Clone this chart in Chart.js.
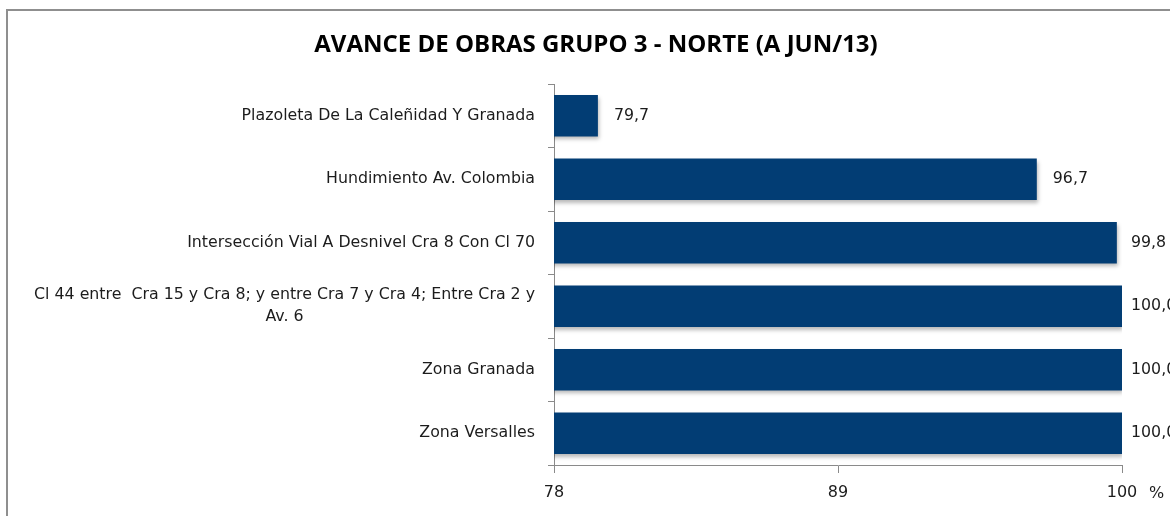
<!DOCTYPE html>
<html>
<head>
<meta charset="utf-8">
<style>
  html, body { margin: 0; padding: 0; background: #ffffff; }
  #wrap { position: relative; width: 1170px; height: 516px; overflow: hidden; }
  canvas { display: block; }
</style>
<script src="https://cdn.jsdelivr.net/npm/chart.js@4.4.1/dist/chart.umd.min.js"></script>
</head>
<body>
<div id="wrap"><canvas id="chart" width="1170" height="516"></canvas></div>
<script>
// Obras del grupo 3 - Norte, porcentaje de avance a junio de 2013
const categories = [
  ['Plazoleta De La Caleñidad Y Granada'],
  ['Hundimiento Av. Colombia'],
  ['Intersección Vial A Desnivel Cra 8 Con Cl 70'],
  ['Cl 44 entre  Cra 15 y Cra 8; y entre Cra 7 y Cra 4; Entre Cra 2 y', 'Av. 6'],
  ['Zona Granada'],
  ['Zona Versalles']
];
const avance = [79.7, 96.7, 99.8, 100.0, 100.0, 100.0];
const xTicks = [78, 89, 100];

const titleText = 'AVANCE DE OBRAS GRUPO 3 - NORTE (A JUN/13)';
const BAR = '#023d74';
const AXIS = '#8a8a8a';
const TEXT = '#1c1c1c';
const LABEL_FONT = '15.8px "DejaVu Sans"';

// Marco, título y rótulos de categoría (centrados por línea, alineados a la derecha)
const framePlugin = {
  id: 'frame',
  beforeDraw(chart) {
    const ctx = chart.ctx;
    ctx.save();
    ctx.strokeStyle = '#8f8f8f';
    ctx.lineWidth = 2;
    ctx.strokeRect(7, 10, chart.width + 20, chart.height + 20);
    ctx.restore();
  },
  afterDraw(chart) {
    const ctx = chart.ctx;
    const y = chart.scales.y;
    const x = chart.scales.x;
    ctx.save();
    // título
    ctx.fillStyle = '#000000';
    ctx.font = 'bold 24px "Open Sans"';
    ctx.textAlign = 'center';
    ctx.textBaseline = 'middle';
    ctx.fillText(titleText, 596, 45);

    // rótulos de categoría
    ctx.font = LABEL_FONT;
    ctx.fillStyle = TEXT;
    const rightEdge = y.right - 19;
    const lineH = 22;
    categories.forEach((lines, i) => {
      const cy = y.getPixelForValue(i);
      const w = Math.max(...lines.map(l => ctx.measureText(l).width));
      const cx = rightEdge - w / 2;
      const y0 = cy - (lines.length - 1) * lineH / 2;
      lines.forEach((l, k) => ctx.fillText(l, cx, y0 + k * lineH));
    });

    // unidad del eje x
    ctx.textAlign = 'left';
    ctx.font = '16px "DejaVu Sans"';
    ctx.fillText('%', x.right + 27, 494);
    ctx.restore();
  }
};

// Sombra suave de las barras
const shadowPlugin = {
  id: 'barShadow',
  beforeDatasetsDraw(chart) {
    const ctx = chart.ctx;
    ctx.save();
    ctx.shadowColor = 'rgba(0,0,0,0.28)';
    ctx.shadowBlur = 4;
    ctx.shadowOffsetX = 1;
    ctx.shadowOffsetY = 3;
  },
  afterDatasetsDraw(chart) {
    chart.ctx.restore();
  }
};

// Valores al final de cada barra (sin pasar más allá del margen derecho del área)
const valuePlugin = {
  id: 'values',
  afterDatasetsDraw(chart) {
    const ctx = chart.ctx;
    const meta = chart.getDatasetMeta(0);
    const maxX = chart.chartArea.right + 9;
    ctx.save();
    ctx.font = LABEL_FONT;
    ctx.fillStyle = TEXT;
    ctx.textAlign = 'left';
    ctx.textBaseline = 'middle';
    meta.data.forEach((bar, i) => {
      const txt = avance[i].toFixed(1).replace('.', ',');
      ctx.fillText(txt, Math.min(bar.x + 16, maxX), bar.y);
    });
    ctx.restore();
  }
};

new Chart(document.getElementById('chart'), {
  type: 'bar',
  data: {
    labels: categories.map(c => c.join(' ')),
    datasets: [{
      data: avance,
      backgroundColor: BAR,
      borderWidth: 0,
      barPercentage: 0.65,
      categoryPercentage: 1.0
    }]
  },
  plugins: [framePlugin, shadowPlugin, valuePlugin],
  options: {
    indexAxis: 'y',
    responsive: false,
    animation: false,
    layout: { padding: { top: 84, right: 48, left: 0, bottom: 0 } },
    plugins: {
      legend: { display: false },
      title: { display: false },
      tooltip: { enabled: false }
    },
    scales: {
      x: {
        type: 'linear',
        min: xTicks[0],
        max: xTicks[xTicks.length - 1],
        afterBuildTicks(scale) { scale.ticks = xTicks.map(v => ({ value: v })); },
        afterFit(scale) { scale.height = 51; },
        border: { display: true, color: AXIS, width: 1 },
        grid: { drawOnChartArea: false, drawTicks: true, tickLength: 8, color: AXIS },
        ticks: {
          color: TEXT,
          font: { family: 'DejaVu Sans', size: 16 },
          padding: 10,
          maxRotation: 0,
          autoSkip: false
        }
      },
      y: {
        afterFit(scale) { scale.width = 554; },
        border: { display: true, color: AXIS, width: 1 },
        grid: { drawOnChartArea: false, drawTicks: true, tickLength: 6, color: AXIS, offset: true },
        ticks: { display: false }
      }
    }
  }
});
</script>
</body>
</html>
